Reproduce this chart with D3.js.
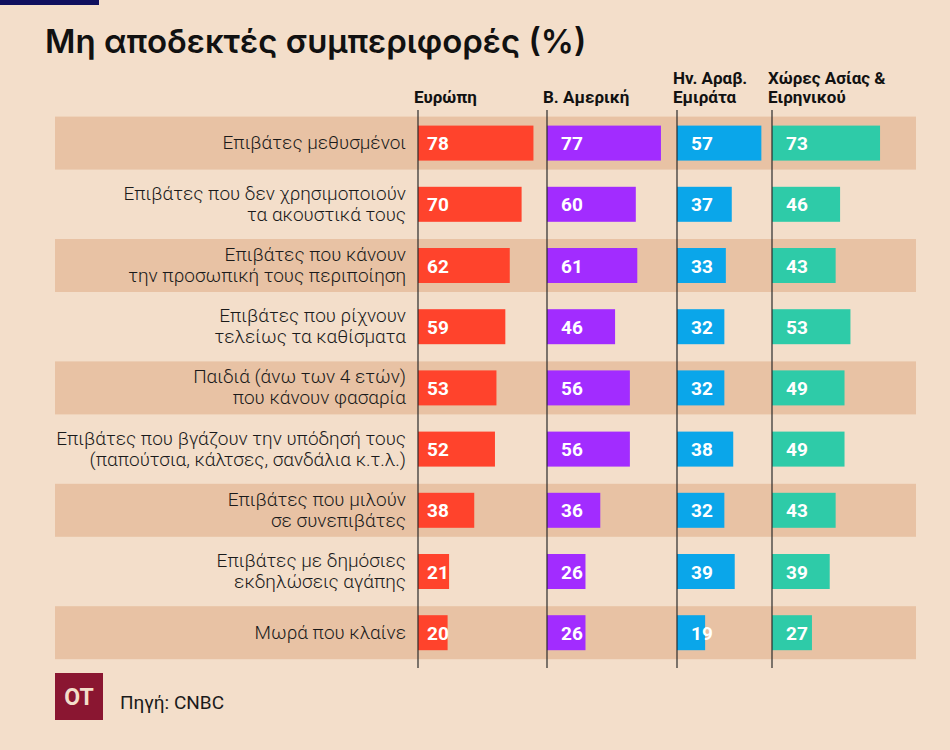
<!DOCTYPE html>
<html>
<head>
<meta charset="utf-8">
<script src="https://cdn.jsdelivr.net/npm/d3@7"></script>
<style>
html,body{margin:0;padding:0;background:#F3DECA;}
svg{display:block;}
</style>
</head>
<body>
<svg id="chart" width="950" height="750"></svg>
<script>
const title = "Μη αποδεκτές συμπεριφορές (%)";
const source = "Πηγή: CNBC";
const categories = [
  ["Επιβάτες μεθυσμένοι"],
  ["Επιβάτες που δεν χρησιμοποιούν", "τα ακουστικά τους"],
  ["Επιβάτες που κάνουν", "την προσωπική τους περιποίηση"],
  ["Επιβάτες που ρίχνουν", "τελείως τα καθίσματα"],
  ["Παιδιά (άνω των 4 ετών)", "που κάνουν φασαρία"],
  ["Επιβάτες που βγάζουν την υπόδησή τους", "(παπούτσια, κάλτσες, σανδάλια κ.τ.λ.)"],
  ["Επιβάτες που μιλούν", "σε συνεπιβάτες"],
  ["Επιβάτες με δημόσιες", "εκδηλώσεις αγάπης"],
  ["Μωρά που κλαίνε"]
];
const seriesNames = [["Ευρώπη"], ["Β. Αμερική"], ["Ην. Αραβ.", "Εμιράτα"], ["Χώρες Ασίας &", "Ειρηνικού"]];
const europe  = [78, 70, 62, 59, 53, 52, 38, 21, 20];
const america = [77, 60, 61, 46, 56, 56, 36, 26, 26];
const uae     = [57, 37, 33, 32, 32, 38, 32, 39, 19];
const asia    = [73, 46, 43, 53, 49, 49, 43, 39, 27];
const seriesValues = [europe, america, uae, asia];

const colors = ["#FF432C", "#A22CFF", "#0AA6EA", "#2ECBA8"];
const colX = [418, 547, 677, 772];
const labelOffset = [9, 14, 14, 14];

const svg = d3.select("#chart");
svg.append("rect").attr("x",0).attr("y",0).attr("width",950).attr("height",750).attr("fill","#F3DECA");
svg.append("rect").attr("x",0).attr("y",0).attr("width",99).attr("height",5).attr("fill","#10105E");

svg.append("text").attr("x",45).attr("y",53).text(title)
  .attr("font-family","Inter, Roboto, sans-serif").attr("font-weight",600)
  .attr("font-size",33).attr("fill","#111");

const idx = d3.range(categories.length);
const y = d3.scaleBand().domain(idx).range([112.5, 663.3]).paddingInner(0.134).paddingOuter(0.067);
const x = d3.scaleLinear().domain([0, 100]).range([0, 148]);

// stripes
svg.selectAll("rect.stripe").data(idx.filter(i => i % 2 === 0)).enter().append("rect")
  .attr("class","stripe").attr("x",55).attr("width",861)
  .attr("y", i => y(i)).attr("height", y.bandwidth()).attr("fill","#E8C2A4");

// row labels
const lab = svg.append("g").attr("font-family","Roboto, sans-serif").attr("font-weight",300)
  .attr("font-size",19).attr("fill","#1a1a1a").attr("text-anchor","end");
idx.forEach(i => {
  const lines = categories[i];
  const cy = y(i) + y.bandwidth()/2;
  const lh = 21;
  lines.forEach((t, k) => {
    lab.append("text").attr("x",406)
      .attr("y", cy + (k - (lines.length-1)/2) * lh + 6)
      .text(t);
  });
});

// headers
seriesNames.forEach((lines, s) => {
  lines.forEach((t, k) => {
    svg.append("text").attr("x", colX[s] - 4)
      .attr("y", 103 - (lines.length-1-k)*19)
      .text(t).attr("font-family","Roboto, sans-serif").attr("font-weight",700)
      .attr("font-size",17).attr("fill","#111");
  });
});

// bars
const barH = 35;
seriesValues.forEach((vals, s) => {
  const g = svg.append("g");
  g.selectAll("rect").data(vals).enter().append("rect")
    .attr("x", colX[s]).attr("y", (d,i) => y(i) + (y.bandwidth()-barH)/2)
    .attr("width", d => x(d)).attr("height", barH).attr("fill", colors[s]);
  g.selectAll("text").data(vals).enter().append("text")
    .attr("x", colX[s] + labelOffset[s]).attr("y", (d,i) => y(i) + y.bandwidth()/2 + 7)
    .text(d => d).attr("font-family","Roboto, sans-serif").attr("font-weight",700)
    .attr("font-size",19).attr("fill","#fff");
  svg.append("line").attr("x1", colX[s]).attr("x2", colX[s]).attr("y1",110).attr("y2",668)
    .attr("stroke","#2a2a2a").attr("stroke-width",1.2);
});

// logo + source
svg.append("rect").attr("x",55).attr("y",673).attr("width",48).attr("height",47).attr("fill","#8A1631");
svg.append("text").attr("x",79).attr("y",705).attr("text-anchor","middle").text("OT")
  .attr("font-family","Roboto, sans-serif").attr("font-weight",700).attr("font-size",23).attr("fill","#F3DECA");
svg.append("text").attr("x",120).attr("y",709).text(source)
  .attr("font-family","Roboto, sans-serif").attr("font-size",19).attr("fill","#1a1a1a");
</script>
</body>
</html>
